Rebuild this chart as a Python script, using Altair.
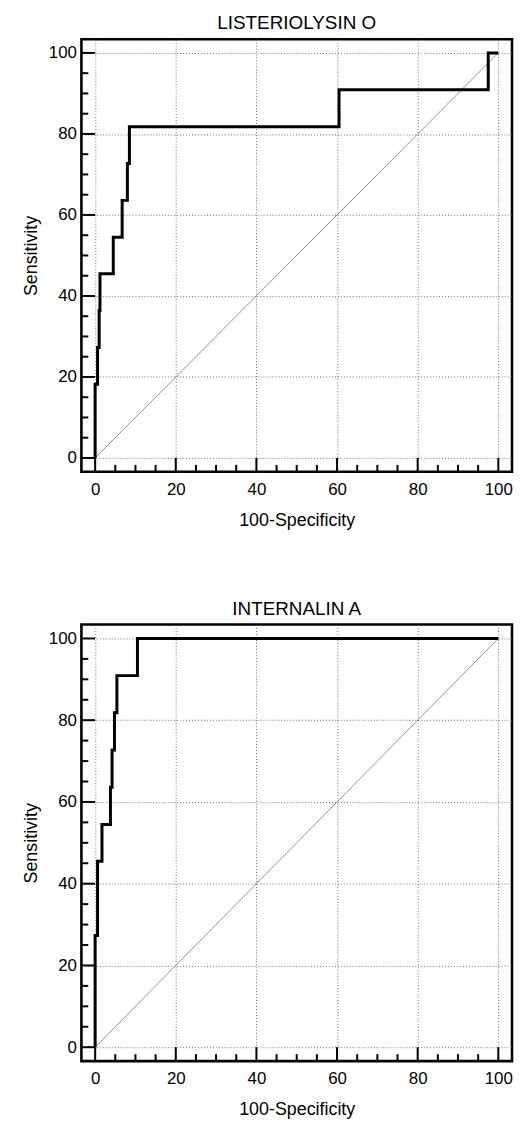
import altair as alt
import pandas as pd

# ROC operating points (100-Specificity, Sensitivity)
lo_fpr = [0, 0, 0.6, 1.0, 1.2, 4.5, 6.7, 8.0, 8.5, 60.5, 97.5, 100]
lo_tpr = [0, 18.2, 27.3, 36.4, 45.5, 54.5, 63.6, 72.7, 81.8, 90.9, 100, 100]
ia_fpr = [0, 0, 0.6, 1.7, 3.8, 4.2, 4.8, 5.4, 10.5, 100]
ia_tpr = [0, 27.3, 45.5, 54.5, 63.6, 72.7, 81.8, 90.9, 100, 100]
panel_titles = ["LISTERIOLYSIN O", "INTERNALIN A"]
x_title = "100-Specificity"
y_title = "Sensitivity"
major_ticks = [0, 20, 40, 60, 80, 100]
minor_ticks = [5, 10, 15, 25, 30, 35, 45, 50, 55, 65, 70, 75, 85, 90, 95]
diag_vals = [0, 100]

DMIN, DMAX = -3.4, 103.4
FONT = "Liberation Sans"


def panel(fpr, tpr, title, w, h):
    xs = alt.Scale(domain=[DMIN, DMAX], nice=False, zero=False)
    ys = alt.Scale(domain=[DMIN, DMAX], nice=False, zero=False)
    common = dict(values=major_ticks, ticks=False, domain=False, grid=True,
                  gridColor="#6e6e6e", gridDash=[1, 2], gridWidth=1,
                  labelFontSize=17, labelFont=FONT, labelColor="black",
                  titleFontSize=18, titleFont=FONT, titleFontWeight="normal",
                  titleColor="black", format="d")
    xax = alt.Axis(labelPadding=10, title=x_title, titlePadding=14, **common)
    yax = alt.Axis(labelPadding=5, title=y_title, titlePadding=8, **common)

    base_df = pd.DataFrame({"x": [0], "y": [0]})
    grid = alt.Chart(base_df).mark_point(opacity=0).encode(
        x=alt.X("x:Q", scale=xs, axis=xax),
        y=alt.Y("y:Q", scale=ys, axis=yax),
    )

    diag = alt.Chart(pd.DataFrame({"x": diag_vals, "y": diag_vals})).mark_line(
        color="#777777", strokeWidth=0.8
    ).encode(x=alt.X("x:Q", scale=xs), y=alt.Y("y:Q", scale=ys))

    curve_df = pd.DataFrame({"x": fpr, "y": tpr, "i": list(range(len(fpr)))})
    curve = alt.Chart(curve_df).mark_line(
        color="black", strokeWidth=3, interpolate="step-after"
    ).encode(x=alt.X("x:Q", scale=xs), y=alt.Y("y:Q", scale=ys), order="i:Q")

    tick_df = pd.DataFrame({
        "pos": major_ticks + minor_ticks,
        "end": [0.0] * len(major_ticks) + [DMIN + 1.7] * len(minor_ticks),
    })
    xticks = alt.Chart(tick_df).mark_rule(color="black", strokeWidth=2).encode(
        x=alt.X("pos:Q", scale=xs),
        y=alt.Y("end:Q", scale=ys),
        y2=alt.datum(DMIN),
    )
    yticks = alt.Chart(tick_df).mark_rule(color="black", strokeWidth=2).encode(
        y=alt.Y("pos:Q", scale=ys),
        x=alt.X("end:Q", scale=xs),
        x2=alt.datum(DMIN),
    )

    return alt.layer(grid, diag, xticks, yticks, curve).properties(
        width=w, height=h,
        title=alt.TitleParams(title, fontSize=19, fontWeight="normal", font=FONT,
                              color="black", offset=6, anchor="middle", frame="group"),
    )


top = panel(lo_fpr, lo_tpr, panel_titles[0], 434, 436)
bottom = panel(ia_fpr, ia_tpr, panel_titles[1], 434, 440)

chart = alt.vconcat(top, bottom, spacing=67).properties(
    padding={"left": 13, "top": 0, "right": 0, "bottom": 0}
).configure_view(stroke="black", strokeWidth=2.6)

chart.save("out.html", embed_options={"renderer": "svg", "actions": False})
